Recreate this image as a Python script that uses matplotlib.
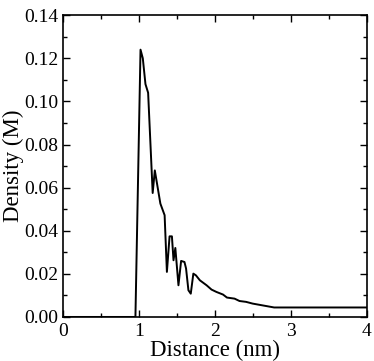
import matplotlib
matplotlib.use('Agg')
import matplotlib.pyplot as plt
from matplotlib.ticker import MultipleLocator

plt.rcParams['font.family'] = ['Liberation Serif', 'DejaVu Serif']

# density profile
distance = [0.0, 0.955, 1.022, 1.052, 1.087, 1.122, 1.182, 1.21, 1.283, 1.339,
            1.369, 1.404, 1.435, 1.456, 1.48, 1.521, 1.556, 1.6, 1.621, 1.652,
            1.683, 1.717, 1.751, 1.803, 1.891, 1.956, 2.021, 2.107, 2.159,
            2.259, 2.324, 2.411, 2.497, 2.78, 4.0]
density = [0.0, 0.0, 0.124, 0.120, 0.108, 0.104, 0.0575, 0.068, 0.0526, 0.0472,
           0.0209, 0.0374, 0.0374, 0.0263, 0.0320, 0.0147, 0.026, 0.0255, 0.0225,
           0.0124, 0.0108, 0.0201, 0.0193, 0.0170, 0.0147, 0.0127, 0.0116,
           0.0104, 0.0090, 0.0085, 0.0074, 0.0070, 0.0062, 0.0044, 0.0044]

fig = plt.figure(figsize=(3.74, 3.61), dpi=100)
ax = fig.add_axes([0.168, 0.122, 0.813, 0.836])

ax.plot(distance, density, color='black', linewidth=1.4)

ax.set_xlim(0, 4)
ax.set_ylim(0, 0.14)
ax.xaxis.set_major_locator(MultipleLocator(1))
ax.xaxis.set_minor_locator(MultipleLocator(0.5))
ax.yaxis.set_major_locator(MultipleLocator(0.02))
ax.yaxis.set_minor_locator(MultipleLocator(0.01))
ax.yaxis.set_major_formatter(plt.FormatStrFormatter('%.2f'))

ax.tick_params(which='both', direction='in', top=True, right=True,
               labelsize=14, width=1, colors='black')
ax.tick_params(which='major', length=5)
ax.tick_params(which='minor', length=3)
ax.tick_params(axis='x', which='major', pad=4)
ax.tick_params(axis='y', which='major', pad=3)
for s in ax.spines.values():
    s.set_linewidth(1.2)

ax.set_xlabel('Distance (nm)', fontsize=16.5, labelpad=0)
ax.set_ylabel('Density (M)', fontsize=16.5, labelpad=0)

fig.savefig('out.png', dpi=100)
